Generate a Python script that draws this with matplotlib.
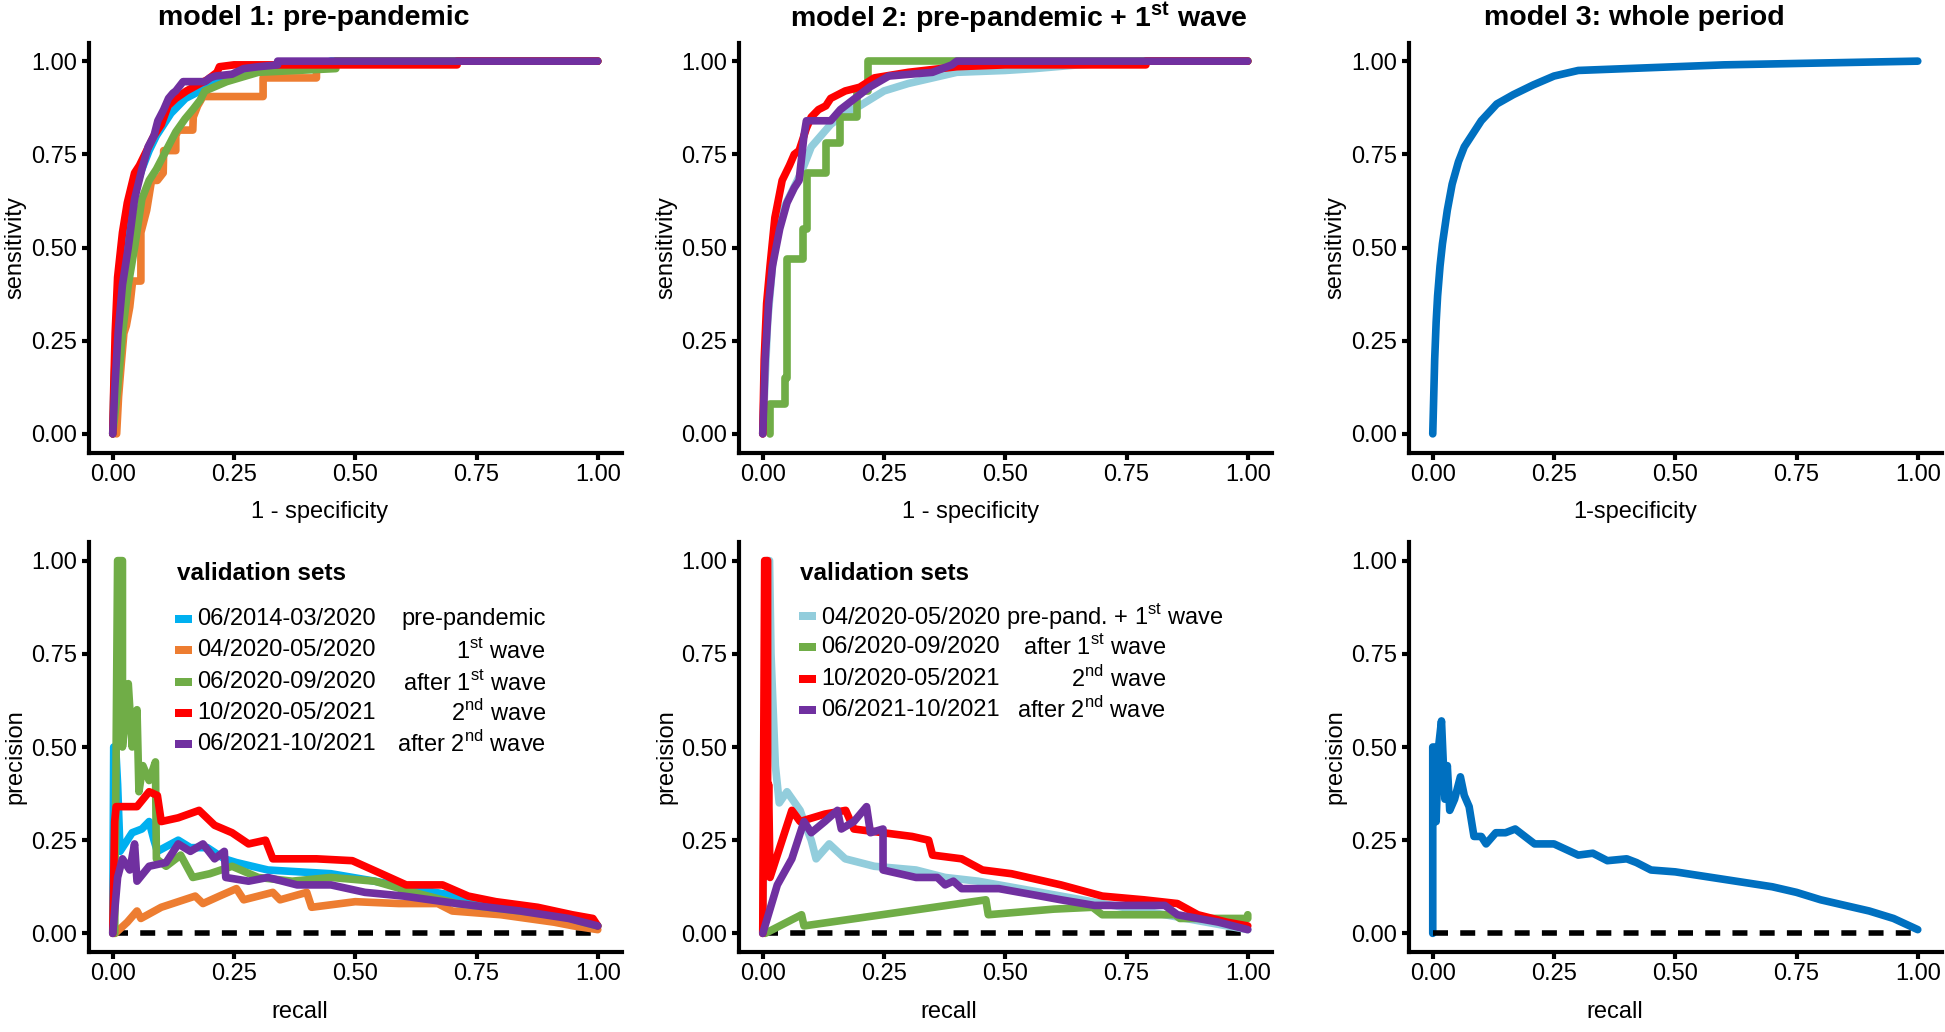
import matplotlib.pyplot as plt
from matplotlib.patches import Rectangle

plt.rcParams['font.family'] = ['Liberation Sans', 'DejaVu Sans']
plt.rcParams['mathtext.fontset'] = 'custom'
plt.rcParams['mathtext.rm'] = 'Liberation Sans'
plt.rcParams['mathtext.bf'] = 'Liberation Sans:bold'

# colours of the validation sets
C_PRE = '#00B0F0'
C_W1 = '#ED7D31'
C_AFTER1 = '#70AD47'
C_W2 = '#FF0000'
C_AFTER2 = '#7030A0'
C_PRE_W1 = '#92CDDC'
C_ALL = '#0070C0'

tick_values = [0, 0.25, 0.5, 0.75, 1.0]
tick_labels = ['0.00', '0.25', '0.50', '0.75', '1.00']

# ---- ROC, model 1 ----
roc1_pre_x = [0, 0.003, 0.01, 0.02, 0.03, 0.045, 0.06, 0.075, 0.09, 0.105, 0.12, 0.135, 0.15, 0.18, 0.2, 0.25, 0.3, 0.4, 0.45, 1.0]
roc1_pre_y = [0, 0.15, 0.33, 0.47, 0.57, 0.65, 0.71, 0.76, 0.80, 0.83, 0.86, 0.88, 0.9, 0.92, 0.94, 0.96, 0.975, 0.98, 1.0, 1.0]
roc1_w1_x = [0.008, 0.012, 0.017, 0.023, 0.028, 0.035, 0.041, 0.058, 0.058, 0.07, 0.08, 0.092, 0.104, 0.105, 0.13, 0.13, 0.135, 0.165, 0.166, 0.175, 0.186, 0.2, 0.31, 0.31, 0.42, 0.42, 0.46, 1.0]
roc1_w1_y = [0, 0.1, 0.18, 0.27, 0.29, 0.34, 0.41, 0.41, 0.54, 0.6, 0.68, 0.68, 0.70, 0.76, 0.76, 0.80, 0.815, 0.815, 0.85, 0.88, 0.905, 0.905, 0.905, 0.955, 0.955, 0.98, 1.0, 1.0]
roc1_after1_x = [0, 0.01, 0.02, 0.032, 0.045, 0.06, 0.075, 0.09, 0.11, 0.13, 0.149, 0.165, 0.18, 0.19, 0.235, 0.3, 0.46, 0.46, 1.0]
roc1_after1_y = [0, 0.12, 0.27, 0.4, 0.5, 0.63, 0.68, 0.71, 0.76, 0.81, 0.845, 0.87, 0.895, 0.92, 0.945, 0.97, 0.98, 1.0, 1.0]
roc1_w2_x = [0, 0.002, 0.005, 0.01, 0.02, 0.03, 0.045, 0.055, 0.07, 0.085, 0.1, 0.114, 0.13, 0.152, 0.18, 0.195, 0.215, 0.22, 0.25, 0.35, 0.71, 0.71, 1.0]
roc1_w2_y = [0, 0.12, 0.27, 0.42, 0.54, 0.62, 0.70, 0.72, 0.76, 0.80, 0.83, 0.88, 0.90, 0.92, 0.94, 0.95, 0.97, 0.985, 0.99, 0.99, 0.99, 1.0, 1.0]
roc1_after2_x = [0, 0.004, 0.011, 0.02, 0.032, 0.045, 0.06, 0.073, 0.085, 0.093, 0.105, 0.115, 0.124, 0.13, 0.145, 0.19, 0.2, 0.212, 0.246, 0.27, 0.3, 0.34, 0.34, 1.0]
roc1_after2_y = [0, 0.12, 0.27, 0.4, 0.5, 0.63, 0.71, 0.77, 0.8, 0.84, 0.87, 0.9, 0.914, 0.92, 0.945, 0.945, 0.955, 0.96, 0.965, 0.98, 0.985, 0.99, 1.0, 1.0]

# ---- ROC, model 2 ----
roc2_prew1_x = [0, 0.005, 0.01, 0.02, 0.03, 0.045, 0.06, 0.075, 0.085, 0.1, 0.12, 0.14, 0.17, 0.2, 0.25, 0.3, 0.35, 0.4, 0.5, 0.56, 0.65, 0.8, 1.0]
roc2_prew1_y = [0, 0.15, 0.3, 0.45, 0.55, 0.61, 0.65, 0.69, 0.72, 0.77, 0.80, 0.83, 0.86, 0.88, 0.92, 0.94, 0.955, 0.97, 0.975, 0.98, 0.99, 1.0, 1.0]
roc2_after1_x = [0.015, 0.015, 0.045, 0.045, 0.05, 0.05, 0.083, 0.083, 0.092, 0.092, 0.13, 0.13, 0.16, 0.16, 0.194, 0.194, 0.217, 0.217, 1.0]
roc2_after1_y = [0.0, 0.08, 0.08, 0.15, 0.15, 0.47, 0.47, 0.55, 0.55, 0.70, 0.70, 0.78, 0.78, 0.85, 0.85, 0.92, 0.92, 1.0, 1.0]
roc2_w2_x = [0, 0.003, 0.008, 0.015, 0.025, 0.04, 0.055, 0.065, 0.075, 0.09, 0.1, 0.115, 0.13, 0.14, 0.17, 0.2, 0.23, 0.3, 0.4, 0.5, 0.79, 0.79, 1.0]
roc2_w2_y = [0, 0.2, 0.35, 0.45, 0.58, 0.68, 0.72, 0.75, 0.76, 0.82, 0.85, 0.87, 0.88, 0.9, 0.92, 0.93, 0.955, 0.97, 0.985, 0.99, 0.99, 1.0, 1.0]
roc2_after2_x = [0, 0.005, 0.012, 0.02, 0.035, 0.05, 0.065, 0.075, 0.085, 0.09, 0.14, 0.16, 0.19, 0.22, 0.26, 0.35, 0.39, 0.4, 1.0]
roc2_after2_y = [0, 0.2, 0.35, 0.45, 0.55, 0.62, 0.66, 0.68, 0.8, 0.84, 0.84, 0.87, 0.9, 0.93, 0.96, 0.97, 0.99, 1.0, 1.0]

# ---- ROC, model 3 ----
roc3_x = [0, 0.002, 0.004, 0.007, 0.01, 0.015, 0.02, 0.03, 0.04, 0.053, 0.065, 0.08, 0.1, 0.132, 0.166, 0.207, 0.25, 0.3, 0.4, 0.6, 0.8, 1.0]
roc3_y = [0, 0.1, 0.2, 0.3, 0.37, 0.45, 0.51, 0.6, 0.67, 0.73, 0.77, 0.8, 0.84, 0.885, 0.91, 0.936, 0.96, 0.975, 0.98, 0.99, 0.995, 1.0]

# ---- precision-recall, model 1 ----
pr1_pre_x = [0, 0.002, 0.006, 0.01, 0.015, 0.04, 0.06, 0.075, 0.085, 0.092, 0.135, 0.16, 0.195, 0.23, 0.255, 0.32, 0.45, 0.54, 0.62, 0.71, 0.8, 0.876, 0.947, 1.0]
pr1_pre_y = [0, 0.5, 0.5, 0.4, 0.22, 0.27, 0.28, 0.3, 0.25, 0.22, 0.25, 0.23, 0.23, 0.2, 0.19, 0.17, 0.16, 0.14, 0.12, 0.1, 0.08, 0.065, 0.04, 0.02]
pr1_w1_x = [0.005, 0.03, 0.05, 0.058, 0.1, 0.17, 0.186, 0.22, 0.255, 0.27, 0.33, 0.345, 0.4, 0.41, 0.5, 0.59, 0.67, 0.7, 0.8, 0.91, 0.95, 1.0]
pr1_w1_y = [0, 0.03, 0.06, 0.04, 0.07, 0.1, 0.08, 0.1, 0.12, 0.09, 0.11, 0.09, 0.11, 0.07, 0.085, 0.08, 0.08, 0.06, 0.05, 0.03, 0.02, 0.01]
pr1_after1_x = [0.004, 0.01, 0.02, 0.02, 0.032, 0.04, 0.05, 0.054, 0.062, 0.075, 0.088, 0.09, 0.11, 0.14, 0.165, 0.2, 0.246, 0.3, 0.37, 0.45, 0.54, 0.62, 0.71, 0.84, 0.92, 0.97, 1.0]
pr1_after1_y = [0, 1.0, 1.0, 0.5, 0.67, 0.5, 0.6, 0.38, 0.45, 0.41, 0.46, 0.2, 0.18, 0.21, 0.15, 0.16, 0.18, 0.15, 0.14, 0.15, 0.14, 0.11, 0.08, 0.06, 0.05, 0.03, 0.02]
pr1_w2_x = [0, 0.004, 0.007, 0.05, 0.075, 0.092, 0.1, 0.135, 0.178, 0.21, 0.246, 0.28, 0.315, 0.33, 0.42, 0.494, 0.554, 0.605, 0.68, 0.733, 0.79, 0.876, 0.947, 0.99, 1.0]
pr1_w2_y = [0, 0.3, 0.34, 0.34, 0.38, 0.37, 0.3, 0.31, 0.33, 0.29, 0.27, 0.24, 0.25, 0.2, 0.2, 0.195, 0.16, 0.13, 0.13, 0.1, 0.085, 0.07, 0.05, 0.04, 0.02]
pr1_after2_x = [0, 0.01, 0.02, 0.035, 0.045, 0.05, 0.075, 0.11, 0.135, 0.16, 0.186, 0.21, 0.23, 0.233, 0.28, 0.32, 0.38, 0.45, 0.52, 0.6, 0.71, 0.84, 0.94, 1.0]
pr1_after2_y = [0, 0.15, 0.2, 0.17, 0.24, 0.14, 0.18, 0.19, 0.24, 0.22, 0.24, 0.2, 0.22, 0.15, 0.14, 0.15, 0.13, 0.13, 0.11, 0.1, 0.08, 0.06, 0.04, 0.02]

# ---- precision-recall, model 2 ----
pr2_prew1_x = [0, 0.008, 0.014, 0.017, 0.026, 0.034, 0.05, 0.077, 0.085, 0.1, 0.11, 0.137, 0.17, 0.23, 0.316, 0.376, 0.444, 0.53, 0.615, 0.7, 0.786, 0.872, 0.957, 1.0]
pr2_prew1_y = [0, 1.0, 1.0, 0.75, 0.45, 0.35, 0.38, 0.33, 0.3, 0.25, 0.2, 0.24, 0.2, 0.18, 0.17, 0.15, 0.14, 0.12, 0.1, 0.08, 0.06, 0.04, 0.02, 0.01]
pr2_after1_x = [0.005, 0.08, 0.085, 0.46, 0.465, 0.6, 0.68, 0.7, 0.85, 0.86, 1.0, 1.0]
pr2_after1_y = [0, 0.05, 0.02, 0.09, 0.05, 0.065, 0.07, 0.05, 0.05, 0.04, 0.04, 0.05]
pr2_w2_x = [0, 0.004, 0.01, 0.01, 0.012, 0.015, 0.06, 0.077, 0.128, 0.171, 0.188, 0.248, 0.308, 0.342, 0.35, 0.41, 0.453, 0.513, 0.615, 0.7, 0.786, 0.855, 0.897, 0.957, 1.0]
pr2_w2_y = [0, 1.0, 1.0, 0.25, 0.4, 0.15, 0.33, 0.3, 0.32, 0.33, 0.28, 0.27, 0.26, 0.25, 0.21, 0.2, 0.17, 0.16, 0.13, 0.1, 0.09, 0.08, 0.05, 0.03, 0.02]
pr2_after2_x = [0, 0.03, 0.06, 0.085, 0.1, 0.128, 0.154, 0.162, 0.188, 0.214, 0.222, 0.248, 0.248, 0.316, 0.36, 0.376, 0.393, 0.41, 0.487, 0.573, 0.615, 0.684, 0.829, 0.855, 0.94, 1.0]
pr2_after2_y = [0, 0.13, 0.2, 0.3, 0.27, 0.3, 0.33, 0.28, 0.3, 0.34, 0.27, 0.28, 0.17, 0.15, 0.15, 0.13, 0.14, 0.12, 0.12, 0.1, 0.09, 0.075, 0.075, 0.05, 0.03, 0.01]

# ---- precision-recall, model 3 ----
pr3_x = [0, 0, 0.004, 0.007, 0.012, 0.018, 0.025, 0.03, 0.035, 0.045, 0.057, 0.065, 0.075, 0.08, 0.085, 0.1, 0.11, 0.13, 0.15, 0.17, 0.19, 0.21, 0.25, 0.3, 0.33, 0.36, 0.4, 0.42, 0.45, 0.5, 0.55, 0.6, 0.65, 0.7, 0.75, 0.8, 0.85, 0.9, 0.95, 1.0]
pr3_y = [0, 0.5, 0.5, 0.3, 0.5, 0.57, 0.36, 0.45, 0.33, 0.36, 0.42, 0.37, 0.34, 0.3, 0.26, 0.26, 0.24, 0.27, 0.27, 0.28, 0.26, 0.24, 0.24, 0.21, 0.215, 0.195, 0.2, 0.19, 0.17, 0.165, 0.155, 0.145, 0.135, 0.125, 0.11, 0.09, 0.075, 0.06, 0.04, 0.01]

W, H = 1945, 1032
fig = plt.figure(figsize=(W / 100, H / 100), dpi=100)


def fx(px):
    return px / W


def fy(px):
    return 1 - px / H


def make_axes(left, top):
    ax = fig.add_axes([fx(left), fy(top + 410), 533.5 / W, 410 / H])
    ax.set_xlim(-0.05, 1.05)
    ax.set_ylim(-0.05, 1.05)
    ax.set_xticks(tick_values)
    ax.set_xticklabels(tick_labels)
    ax.set_yticks(tick_values)
    ax.set_yticklabels(tick_labels)
    for s in ['top', 'right']:
        ax.spines[s].set_visible(False)
    for s in ['left', 'bottom']:
        ax.spines[s].set_linewidth(3)
    ax.tick_params(length=5, width=3, labelsize=17, pad=3)
    return ax


def curve(ax, x, y, color):
    ax.plot(x, y, color=color, lw=5.5, solid_capstyle='round', solid_joinstyle='round')


def baseline(ax):
    ax.plot([0, 1], [0, 0], color='black', lw=4, dashes=(2.7, 2.2))


lefts = [88.5, 738.5, 1408.5]
top_row, bottom_row = 42.5, 542.0

# top row: ROC curves
ax = make_axes(lefts[0], top_row)
curve(ax, roc1_pre_x, roc1_pre_y, C_PRE)
curve(ax, roc1_w1_x, roc1_w1_y, C_W1)
curve(ax, roc1_after1_x, roc1_after1_y, C_AFTER1)
curve(ax, roc1_w2_x, roc1_w2_y, C_W2)
curve(ax, roc1_after2_x, roc1_after2_y, C_AFTER2)

ax = make_axes(lefts[1], top_row)
curve(ax, roc2_prew1_x, roc2_prew1_y, C_PRE_W1)
curve(ax, roc2_after1_x, roc2_after1_y, C_AFTER1)
curve(ax, roc2_w2_x, roc2_w2_y, C_W2)
curve(ax, roc2_after2_x, roc2_after2_y, C_AFTER2)

ax = make_axes(lefts[2], top_row)
curve(ax, roc3_x, roc3_y, C_ALL)

# bottom row: precision-recall curves
ax = make_axes(lefts[0], bottom_row)
baseline(ax)
curve(ax, pr1_pre_x, pr1_pre_y, C_PRE)
curve(ax, pr1_w1_x, pr1_w1_y, C_W1)
curve(ax, pr1_after1_x, pr1_after1_y, C_AFTER1)
curve(ax, pr1_w2_x, pr1_w2_y, C_W2)
curve(ax, pr1_after2_x, pr1_after2_y, C_AFTER2)

ax = make_axes(lefts[1], bottom_row)
baseline(ax)
curve(ax, pr2_prew1_x, pr2_prew1_y, C_PRE_W1)
curve(ax, pr2_after1_x, pr2_after1_y, C_AFTER1)
curve(ax, pr2_w2_x, pr2_w2_y, C_W2)
curve(ax, pr2_after2_x, pr2_after2_y, C_AFTER2)

ax = make_axes(lefts[2], bottom_row)
curve(ax, pr3_x, pr3_y, C_ALL)
baseline(ax)

# titles and axis labels
titles = ['model 1: pre-pandemic',
          r'model 2: pre-pandemic + 1$^{\mathbf{st}}$ wave',
          'model 3: whole period']
for t, cx in zip(titles, [314, 1019, 1634]):
    fig.text(fx(cx), fy(18), t, fontsize=20.5, fontweight='bold', ha='center', va='center')

for lab, cx in zip(['1 - specificity', '1 - specificity', '1-specificity'], [320, 971, 1635]):
    fig.text(fx(cx), fy(512), lab, fontsize=17, ha='center', va='center')
for cx in [300, 949, 1615]:
    fig.text(fx(cx), fy(1012), 'recall', fontsize=17, ha='center', va='center')
for cx in [15, 666, 1335]:
    fig.text(fx(cx), fy(248), 'sensitivity', fontsize=17, rotation=90, ha='center', va='center')
    fig.text(fx(cx), fy(757), 'precision', fontsize=17, rotation=90, ha='center', va='center')


# hand-built legends (dates left, period description right aligned)
def legend_row(y, key_x, color, date, desc, right_x):
    fig.add_artist(Rectangle((fx(key_x), fy(y + 4)), 17 / W, 8 / H,
                             transform=fig.transFigure, color=color, lw=0))
    fig.text(fx(key_x + 22), fy(y), date, fontsize=17, va='center', ha='left')
    if desc:
        fig.text(fx(right_x), fy(y), desc, fontsize=17, va='center', ha='right')


fig.text(fx(177), fy(573), 'validation sets', fontsize=17.5, fontweight='bold', va='center')
legend_row(619, 175, C_PRE, '06/2014-03/2020', 'pre-pandemic', 546)
legend_row(650, 175, C_W1, '04/2020-05/2020', r'1$^{\mathrm{st}}$ wave', 546)
legend_row(682, 175, C_AFTER1, '06/2020-09/2020', r'after 1$^{\mathrm{st}}$ wave', 546)
legend_row(713, 175, C_W2, '10/2020-05/2021', r'2$^{\mathrm{nd}}$ wave', 546)
legend_row(744, 175, C_AFTER2, '06/2021-10/2021', r'after 2$^{\mathrm{nd}}$ wave', 546)

fig.text(fx(800), fy(573), 'validation sets', fontsize=17.5, fontweight='bold', va='center')
legend_row(616, 799, C_PRE_W1, r'04/2020-05/2020 pre-pand. + 1$^{\mathrm{st}}$ wave', None, None)
legend_row(647, 799, C_AFTER1, '06/2020-09/2020', r'after 1$^{\mathrm{st}}$ wave', 1166)
legend_row(679, 799, C_W2, '10/2020-05/2021', r'2$^{\mathrm{nd}}$ wave', 1166)
legend_row(710, 799, C_AFTER2, '06/2021-10/2021', r'after 2$^{\mathrm{nd}}$ wave', 1166)

fig.savefig('out.png', dpi=100)
plt.close(fig)
